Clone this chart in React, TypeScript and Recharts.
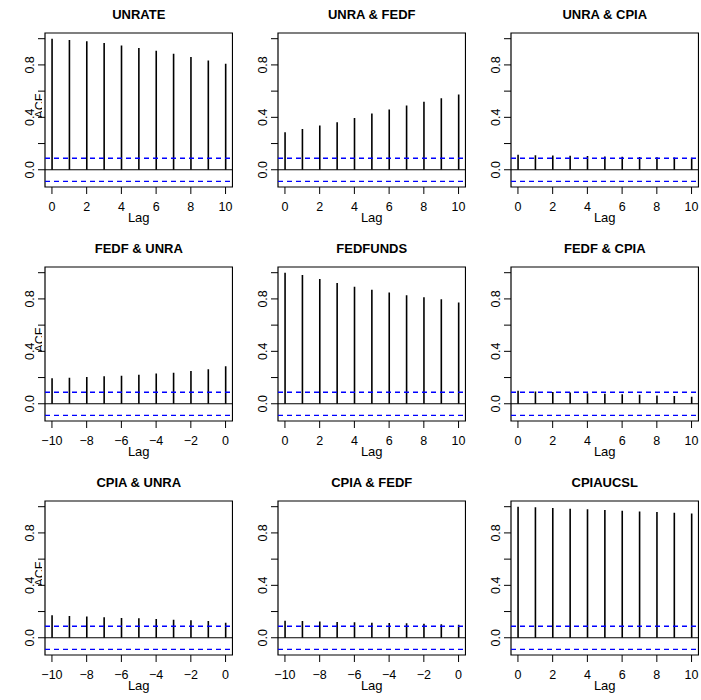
import {
  Bar,
  ComposedChart,
  ReferenceArea,
  ReferenceLine,
  XAxis,
  YAxis,
} from "recharts";

const lagsPos = [0, 1, 2, 3, 4, 5, 6, 7, 8, 9, 10];
const lagsNeg = [-10, -9, -8, -7, -6, -5, -4, -3, -2, -1, 0];
const ticksPos = [0, 2, 4, 6, 8, 10];
const ticksNeg = [-10, -8, -6, -4, -2, 0];
const yTicks = [0, 0.2, 0.4, 0.6, 0.8, 1.0];
const yLabels = ["0.0", "0.4", "0.8"];

const unrate = [1.0, 0.99, 0.98, 0.967, 0.949, 0.929, 0.908, 0.885, 0.86, 0.834, 0.809];
const unraFedf = [0.286, 0.311, 0.337, 0.362, 0.395, 0.429, 0.459, 0.49, 0.518, 0.546, 0.574];
const unraCpia = [0.114, 0.111, 0.109, 0.107, 0.105, 0.102, 0.1, 0.098, 0.096, 0.094, 0.091];
const fedfUnra = [0.194, 0.199, 0.204, 0.209, 0.214, 0.222, 0.23, 0.237, 0.25, 0.263, 0.286];
const fedfunds = [1.0, 0.982, 0.951, 0.921, 0.892, 0.869, 0.849, 0.828, 0.813, 0.797, 0.772];
const fedfCpia = [0.1, 0.093, 0.09, 0.085, 0.081, 0.077, 0.073, 0.068, 0.064, 0.06, 0.053];
const cpiaUnra = [0.172, 0.167, 0.162, 0.156, 0.151, 0.148, 0.144, 0.138, 0.133, 0.128, 0.114];
const cpiaFedf = [0.13, 0.127, 0.124, 0.121, 0.118, 0.115, 0.113, 0.11, 0.107, 0.104, 0.1];
const cpiaucsl = [1.0, 0.995, 0.99, 0.985, 0.98, 0.974, 0.969, 0.964, 0.959, 0.954, 0.949];

const clim = 0.088; // blue confidence bounds

const panels = [
  { title: "UNRATE", lags: lagsPos, values: unrate },
  { title: "UNRA & FEDF", lags: lagsPos, values: unraFedf },
  { title: "UNRA & CPIA", lags: lagsPos, values: unraCpia },
  { title: "FEDF & UNRA", lags: lagsNeg, values: fedfUnra },
  { title: "FEDFUNDS", lags: lagsPos, values: fedfunds },
  { title: "FEDF & CPIA", lags: lagsPos, values: fedfCpia },
  { title: "CPIA & UNRA", lags: lagsNeg, values: cpiaUnra },
  { title: "CPIA & FEDF", lags: lagsNeg, values: cpiaFedf },
  { title: "CPIAUCSL", lags: lagsPos, values: cpiaucsl },
];

const FONT = "'Liberation Sans', Arial, Helvetica, sans-serif";
const CELL_W = 233;
const CELL_H = 234;
const Y_DOMAIN: [number, number] = [-0.1315, 1.0435];

const XTick = ({ x, y, payload }: any) => {
  const v = payload.value as number;
  const txt = v < 0 ? "\u2212" + Math.abs(v) : String(v);
  return (
    <text x={x} y={y + 16.5} textAnchor="middle" fontSize={12.5} fontFamily={FONT} fill="#000">
      {txt}
    </text>
  );
};

const YTick = ({ x, y, payload }: any) => {
  const txt = (payload.value as number).toFixed(1);
  if (!yLabels.includes(txt)) return null;
  return (
    <text
      transform={`translate(${x - 4.5}, ${y}) rotate(-90)`}
      textAnchor="middle"
      fontSize={12.5}
      fontFamily={FONT}
      fill="#000"
    >
      {txt}
    </text>
  );
};

function AcfPanel({ lags, values }: { lags: number[]; values: number[] }) {
  const data = lags.map((lag, i) => ({ lag, acf: values[i] }));
  const neg = lags[0] < 0;
  const xDomain: [number, number] = neg ? [-10.4, 0.4] : [-0.4, 10.4];
  return (
    <ComposedChart
      width={CELL_W}
      height={CELL_H}
      data={data}
      margin={{ top: 33, right: 0.5, bottom: 0, left: 0 }}
    >
      <XAxis
        dataKey="lag"
        type="number"
        domain={xDomain}
        ticks={neg ? ticksNeg : ticksPos}
        interval={0}
        allowDataOverflow
        height={47}
        axisLine={false}
        tickSize={7}
        tickMargin={0}
        tickLine={{ stroke: "#000" }}
        tick={<XTick />}
      />
      <YAxis
        type="number"
        domain={Y_DOMAIN}
        ticks={yTicks}
        interval={0}
        allowDataOverflow
        width={45}
        axisLine={false}
        tickSize={7}
        tickMargin={0}
        tickLine={{ stroke: "#000" }}
        tick={<YTick />}
      />
      <ReferenceLine y={0} stroke="#000" strokeWidth={1} />
      <ReferenceLine y={clim} stroke="#0000FF" strokeWidth={1.3} strokeDasharray="5 4" />
      <ReferenceLine y={-clim} stroke="#0000FF" strokeWidth={1.3} strokeDasharray="5 4" />
      <Bar dataKey="acf" fill="#000" barSize={1.6} isAnimationActive={false} />
      <ReferenceArea
        x1={xDomain[0]}
        x2={xDomain[1]}
        y1={Y_DOMAIN[0]}
        y2={Y_DOMAIN[1]}
        fill="none"
        fillOpacity={0}
        stroke="#000"
        strokeWidth={1.2}
        ifOverflow="visible"
      />
    </ComposedChart>
  );
}

export default function App() {
  return (
    <div
      style={{
        position: "absolute",
        left: 0,
        top: 0,
        width: 701,
        height: 700,
        background: "#fff",
      }}
    >
      {panels.map((p, i) => (
        <div
          key={p.title}
          style={{
            position: "absolute",
            left: (i % 3) * CELL_W,
            top: Math.floor(i / 3) * CELL_H,
          }}
        >
          <AcfPanel lags={p.lags} values={p.values} />
        </div>
      ))}
      <svg
        width={701}
        height={700}
        style={{ position: "absolute", left: 0, top: 0, pointerEvents: "none" }}
      >
        <defs>
          <clipPath id="acfClip">
            <rect x={0} y={0} width={42} height={700} />
          </clipPath>
        </defs>
        {panels.map((p, i) => {
          const cx = (i % 3) * CELL_W + 138.75;
          const top = Math.floor(i / 3) * CELL_H;
          return (
            <g key={p.title}>
              <text
                x={cx}
                y={top + 18.5}
                textAnchor="middle"
                fontSize={13}
                fontWeight="bold"
                fontFamily={FONT}
                fill="#000"
              >
                {p.title}
              </text>
              <text
                x={cx}
                y={top + 221.5}
                textAnchor="middle"
                fontSize={13}
                fontFamily={FONT}
                fill="#000"
              >
                Lag
              </text>
            </g>
          );
        })}
        <g clipPath="url(#acfClip)">
          {[0, 1, 2].map((r) => (
            <text
              key={r}
              transform={`translate(44, ${r * CELL_H + 106}) rotate(-90)`}
              textAnchor="middle"
              fontSize={12.5}
              fontFamily={FONT}
              fill="#000"
            >
              ACF
            </text>
          ))}
        </g>
      </svg>
    </div>
  );
}
